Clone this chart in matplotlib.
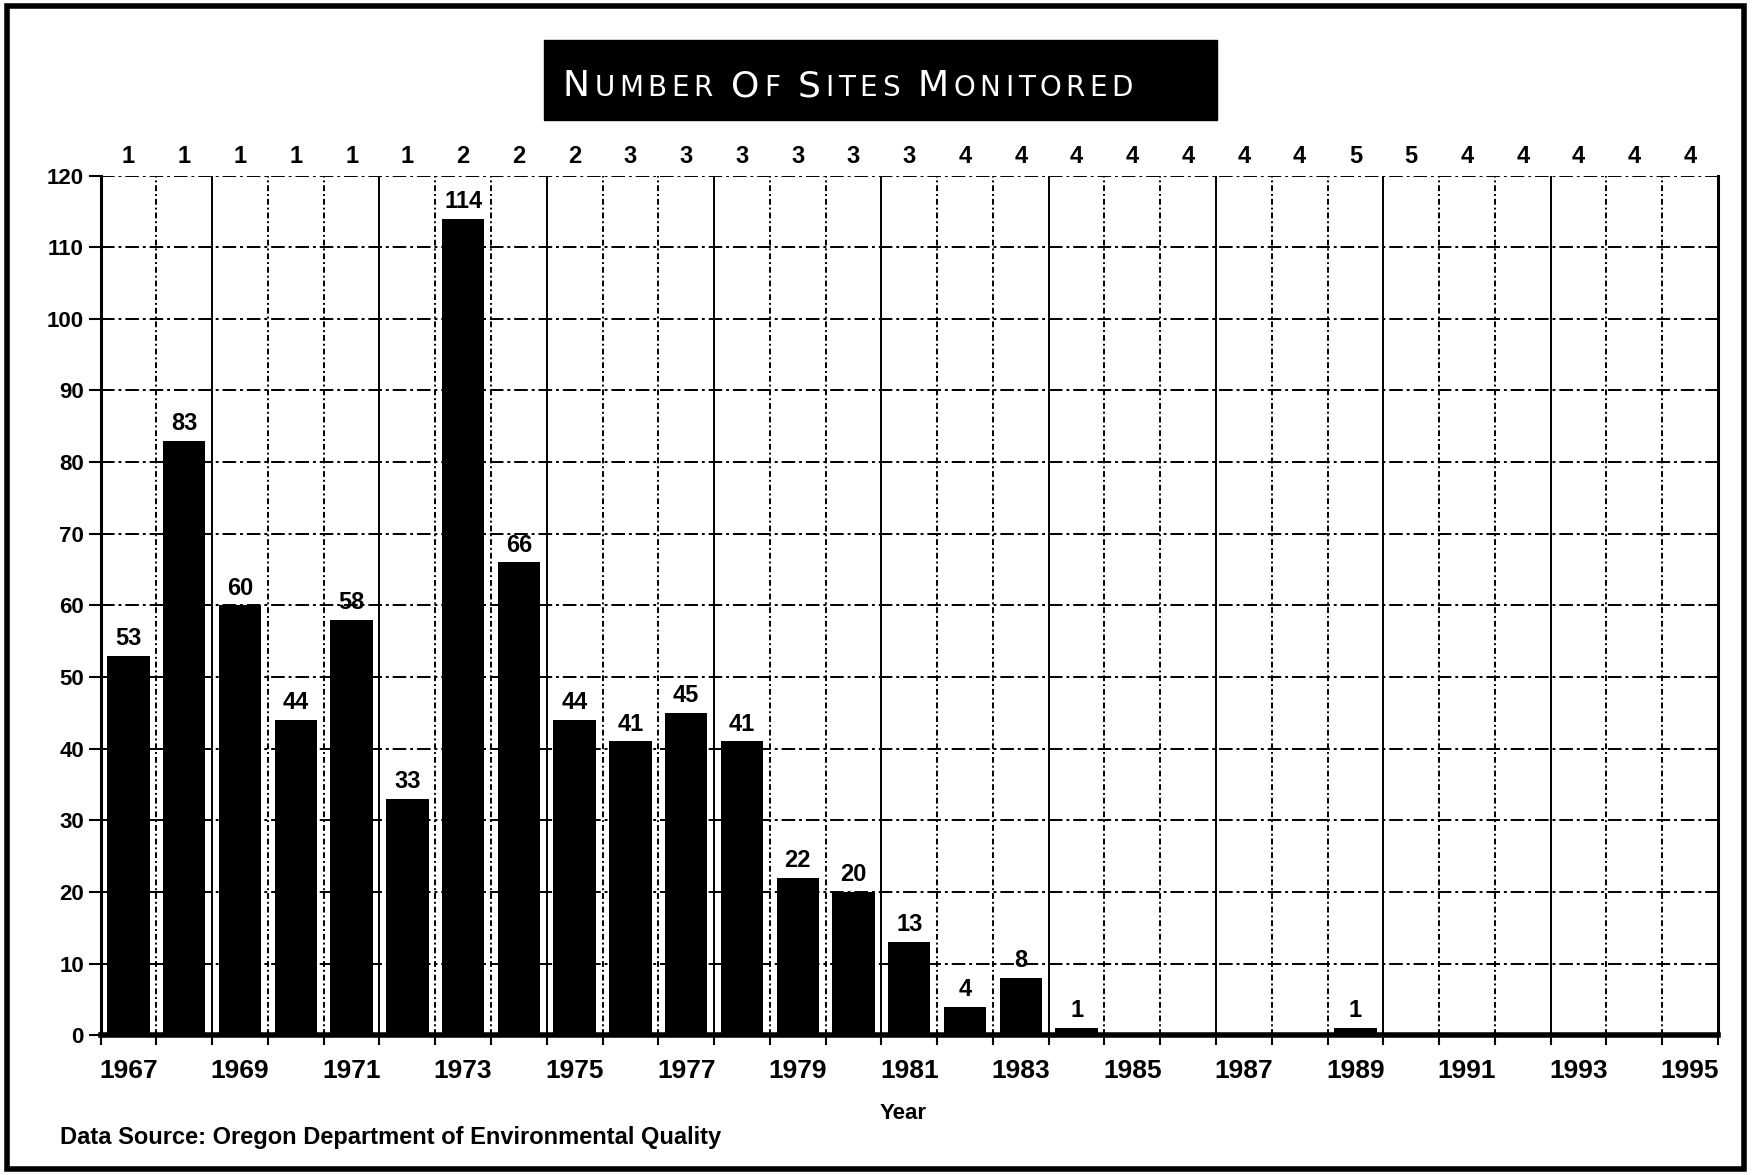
import numpy as np
import matplotlib
matplotlib.use("Agg")
import matplotlib.pyplot as plt
from matplotlib.patches import Rectangle
from matplotlib.text import Annotation

# data
years = list(range(1967, 1996))
sites_sampled = [53, 83, 60, 44, 58, 33, 114, 66, 44, 41, 45, 41, 22, 20, 13,
                 4, 8, 1, 0, 0, 0, 0, 1, 0, 0, 0, 0, 0, 0]
n_stations = [1, 1, 1, 1, 1, 1, 2, 2, 2, 3, 3, 3, 3, 3, 3,
              4, 4, 4, 4, 4, 4, 4, 5, 5, 4, 4, 4, 4, 4]
y_ticks = list(range(0, 121, 10))
title = "Number Of Sites Monitored"

font = "Liberation Sans"

fig = plt.figure(figsize=(17.53, 11.75), dpi=100)
ax = fig.add_axes([0.0574, 0.119, 0.9226, 0.7316])

x = np.arange(len(years))
ax.bar(x, sites_sampled, width=0.76, color="black", zorder=3)

ax.set_xlim(-0.5, len(years) - 0.5)
ax.set_ylim(0, 120)

ax.set_yticks(y_ticks)
ax.set_yticklabels([str(v) for v in y_ticks], fontfamily=font,
                   fontweight="bold", fontsize=16)
ax.set_xticks(np.arange(-0.5, len(years), 1.0))
ax.set_xticklabels([])
ax.set_xticks(x[::2], minor=True)
ax.set_xticklabels([str(y) for y in years[::2]], minor=True, fontfamily=font,
                   fontweight="bold", fontsize=19)
ax.tick_params(axis="y", which="major", length=9, width=1.5, pad=3)
ax.tick_params(axis="x", which="major", length=7, width=1.5, direction="out")
ax.tick_params(axis="x", which="minor", length=0, pad=17)

# grid
for yv in y_ticks:
    ax.axhline(yv, color="black", lw=1.4, ls=(0, (7, 2, 1.5, 2)), zorder=1)
for xv in np.arange(0.5, len(years) - 1, 1.0):
    style = "-" if int(xv) % 3 == 1 else (0, (3, 1.5, 1, 1.5))
    ax.axvline(xv, color="black", lw=1.4, ls=style, zorder=1)

for side in ["left", "right"]:
    ax.spines[side].set_linewidth(2.2)
ax.spines["bottom"].set_linewidth(4)
ax.spines["top"].set_visible(False)

# bar value labels
for xi, v in zip(x, sites_sampled):
    if v > 0:
        ax.annotate(str(v), (xi, v), xytext=(0, 4), textcoords="offset points",
                    ha="center", va="bottom", fontfamily=font,
                    fontweight="bold", fontsize=17, zorder=4)

# station counts along the top
for xi, n in zip(x, n_stations):
    ax.text(xi, 1.022, str(n), transform=ax.get_xaxis_transform(),
            ha="center", va="center", fontfamily=font, fontweight="bold",
            fontsize=17)

# title box, small caps drawn letter by letter
fig.patches.append(Rectangle((0.3106, 0.898), 0.3834, 0.0677,
                             transform=fig.transFigure, color="black"))
prev = None
for ch in title:
    kw = dict(color="white", fontsize=26 if ch.isupper() else 20,
              fontfamily="DejaVu Sans", ha="left", va="baseline", zorder=5)
    if prev is None:
        prev = fig.text(0.321, 0.918, ch.upper(), **kw)
    else:
        prev = fig.add_artist(Annotation(ch.upper(), xy=(1, 0.918),
                                         xycoords=(prev, "figure fraction"),
                                         xytext=(3.3, 0),
                                         textcoords="offset points", **kw))

fig.text(0.515, 0.052, "Year", ha="center", va="center", fontfamily=font,
         fontweight="bold", fontsize=16)
fig.text(0.034, 0.032, "Data Source: Oregon Department of Environmental Quality",
         ha="left", va="center", fontfamily=font, fontweight="bold",
         fontsize=17)

# outer frame
fig.patches.append(Rectangle((0.004, 0.005), 0.991, 0.99,
                             transform=fig.transFigure, fill=False,
                             lw=4, edgecolor="black"))

fig.savefig("out.png", dpi=100)
